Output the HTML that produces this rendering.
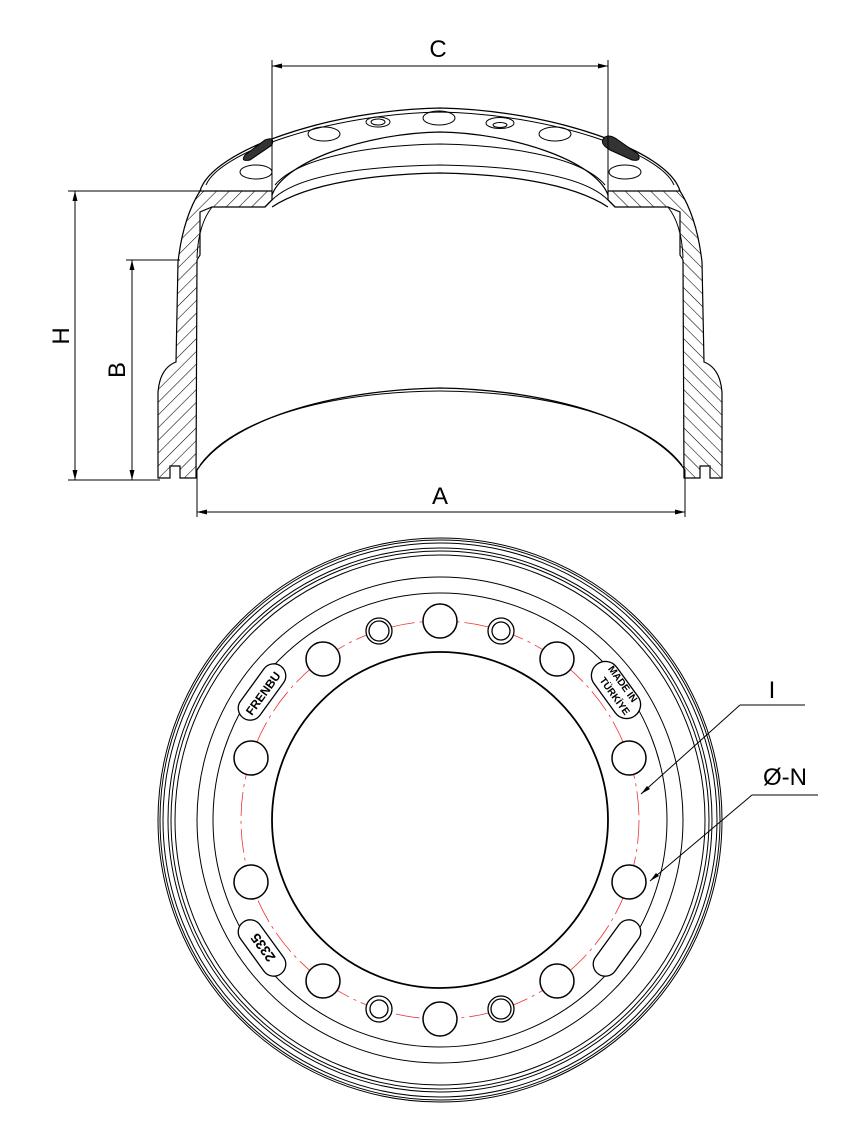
<!DOCTYPE html>
<html><head><meta charset="utf-8"><style>
html,body{margin:0;padding:0;background:#fff;}
svg{display:block;}
text{font-family:"Liberation Sans",sans-serif;}
</style></head><body>
<svg width="847" height="1144" viewBox="0 0 847 1144" xmlns="http://www.w3.org/2000/svg">
<defs>
<pattern id="h" patternUnits="userSpaceOnUse" width="9" height="9" patternTransform="rotate(45)">
<line x1="0" y1="0" x2="0" y2="9" stroke="#000" stroke-width="1.1"/>
</pattern>
<g id="sec">
<path d="M158,478 L158,392 Q160,368 176,362 L178,262 Q183,218 200,191 L272,191 L272,200 L265,207 L212,207 L200,212 L200,255 L197,260 L196,478 L180,478 L180,466 L170,466 L170,478 Z" fill="url(#h)" stroke="#000" stroke-width="1.2"/>
<path d="M212,207 Q198,225 197,258" fill="none" stroke="#000" stroke-width="1"/>
</g>
</defs>

<g fill="none" stroke="#000" stroke-width="1">
<path d="M200,191 C212,150 330,110 440,108 C550,110 668,150 680,191" stroke-width="1.3"/>
<path d="M206,185 C220,152 330,114 440,112 C550,114 660,152 674,185"/>
<path d="M272,195 C285,160 370,133 440,132 C510,133 595,160 608,195" stroke-width="1.2"/>
<path d="M275,185 C300,155 380,145 440,144 C500,145 580,155 605,185"/>
<path d="M272,200 C300,172 380,166 440,165 C500,166 580,172 608,200"/>
<path d="M272,207 C310,182 380,174 440,173 C500,174 570,182 608,207" stroke-width="1.2"/>
<path d="M197,470 C230,420 330,390 440,388 C550,390 650,420 685,470" stroke-width="1.3"/>
<path d="M200,465 C235,418 330,392 440,391 C550,392 645,418 682,465"/>
<ellipse cx="256" cy="172" rx="16" ry="7"/>
<ellipse cx="324" cy="134" rx="16" ry="7"/>
<ellipse cx="378" cy="122" rx="12" ry="5"/>
<ellipse cx="378" cy="122" rx="7" ry="3"/>
<ellipse cx="439" cy="118" rx="16" ry="7"/>
<ellipse cx="500" cy="123" rx="14" ry="5.5"/>
<ellipse cx="500" cy="125" rx="7" ry="2.5"/>
<ellipse cx="555" cy="134" rx="16" ry="7"/>
<ellipse cx="625" cy="172" rx="16" ry="7"/>
</g>
<path d="M245,155 L265,140 Q275,136 272,145 L250,160 Q240,162 245,155Z" fill="#333" stroke="#000"/>
<path d="M605,137 Q598,143 610,150 L632,160 Q642,162 638,154 L618,140 Q610,134 605,137Z" fill="#333" stroke="#000"/>

<use href="#sec"/>
<use href="#sec" transform="translate(880,0) scale(-1,1)"/>

<g stroke="#000" stroke-width="1" fill="none">
<line x1="272" y1="60" x2="272" y2="195"/>
<line x1="608" y1="60" x2="608" y2="195"/>
<line x1="272" y1="66" x2="608" y2="66"/>
<line x1="68" y1="191" x2="205" y2="191"/>
<line x1="68" y1="480" x2="160" y2="480"/>
<line x1="75" y1="191" x2="75" y2="480"/>
<line x1="126" y1="260" x2="180" y2="260"/>
<line x1="132" y1="260" x2="132" y2="480"/>
<line x1="197" y1="470" x2="197" y2="517"/>
<line x1="685" y1="470" x2="685" y2="517"/>
<line x1="197" y1="512" x2="685" y2="512"/>
</g>
<g fill="#000">
<path d="M272,66 l10,-2.5 v5z"/><path d="M608,66 l-10,-2.5 v5z"/>
<path d="M75,191 l-2.5,10 h5z"/><path d="M75,480 l-2.5,-10 h5z"/>
<path d="M132,260 l-2.5,10 h5z"/><path d="M132,480 l-2.5,-10 h5z"/>
<path d="M197,512 l10,-2.5 v5z"/><path d="M685,512 l-10,-2.5 v5z"/>
</g>
<text x="438" y="57" font-size="24" text-anchor="middle">C</text>
<text x="440" y="504" font-size="24" text-anchor="middle">A</text>
<text transform="translate(69,336) rotate(-90)" font-size="24" text-anchor="middle">H</text>
<text transform="translate(125,370) rotate(-90)" font-size="24" text-anchor="middle">B</text>

<g fill="none" stroke="#000" stroke-width="1">
<circle cx="440" cy="820" r="282"/>
<circle cx="440" cy="820" r="280"/>
<circle cx="440" cy="820" r="277"/>
<circle cx="440" cy="820" r="272"/>
<circle cx="440" cy="820" r="269"/>
<circle cx="440" cy="820" r="265"/>
<circle cx="440" cy="820" r="243"/>
<circle cx="440" cy="820" r="227"/>
<circle cx="440" cy="820" r="168" stroke-width="1.8"/>
</g>
<circle cx="440" cy="820" r="199" fill="none" stroke="#e33" stroke-width="0.8" stroke-dasharray="24,5,3,5"/>
<g fill="#fff" stroke="#000" stroke-width="1.5">
<circle cx="440" cy="621" r="17"/>
<circle cx="557" cy="659" r="17"/>
<circle cx="629" cy="758" r="17"/>
<circle cx="629" cy="882" r="17"/>
<circle cx="557" cy="981" r="17"/>
<circle cx="440" cy="1019" r="17"/>
<circle cx="323" cy="981" r="17"/>
<circle cx="251" cy="882" r="17"/>
<circle cx="251" cy="758" r="17"/>
<circle cx="323" cy="659" r="17"/>
</g>
<g fill="#fff" stroke="#000" stroke-width="1.3">
<circle cx="379" cy="631" r="13"/><circle cx="379" cy="631" r="10"/>
<circle cx="501" cy="631" r="13"/><circle cx="501" cy="631" r="9"/>
<circle cx="379" cy="1009" r="13"/><circle cx="379" cy="1009" r="9"/>
<circle cx="501" cy="1009" r="13"/><circle cx="501" cy="1009" r="10"/>
</g>
<g fill="#fff" stroke="#000" stroke-width="1.3">
<rect x="-32" y="-12" width="64" height="24" rx="12" transform="translate(262,692) rotate(-54)"/>
<rect x="-32" y="-14" width="64" height="28" rx="14" transform="translate(616,690) rotate(54)"/>
<rect x="-32" y="-12" width="64" height="24" rx="12" transform="translate(262,948) rotate(54)"/>
<rect x="-32" y="-12" width="64" height="24" rx="12" transform="translate(617,948) rotate(-54)"/>
</g>
<text transform="translate(264,694) rotate(-54)" font-size="12" font-weight="bold" text-anchor="middle" dominant-baseline="middle">FRENBU</text>
<text transform="translate(620,686) rotate(54)" font-size="10" font-weight="bold" text-anchor="middle">MADE IN</text>
<text transform="translate(612,698) rotate(54)" font-size="10" font-weight="bold" text-anchor="middle">TÜRKİYE</text>
<text transform="translate(264,947) rotate(234)" font-size="14" font-weight="bold" text-anchor="middle" dominant-baseline="middle">2335</text>

<g stroke="#000" stroke-width="1" fill="none">
<line x1="740" y1="705" x2="805" y2="705"/>
<line x1="740" y1="705" x2="641" y2="794"/>
<line x1="752" y1="795" x2="818" y2="795"/>
<line x1="752" y1="795" x2="650" y2="881"/>
</g>
<path d="M641,794 l6,-8 l3,3z" fill="#000"/>
<path d="M650,881 l6,-8 l3,3z" fill="#000"/>
<text x="772" y="698" font-size="24" text-anchor="middle">I</text>
<text x="785" y="785" font-size="24" text-anchor="middle">Ø-N</text>
</svg>
</body></html>
